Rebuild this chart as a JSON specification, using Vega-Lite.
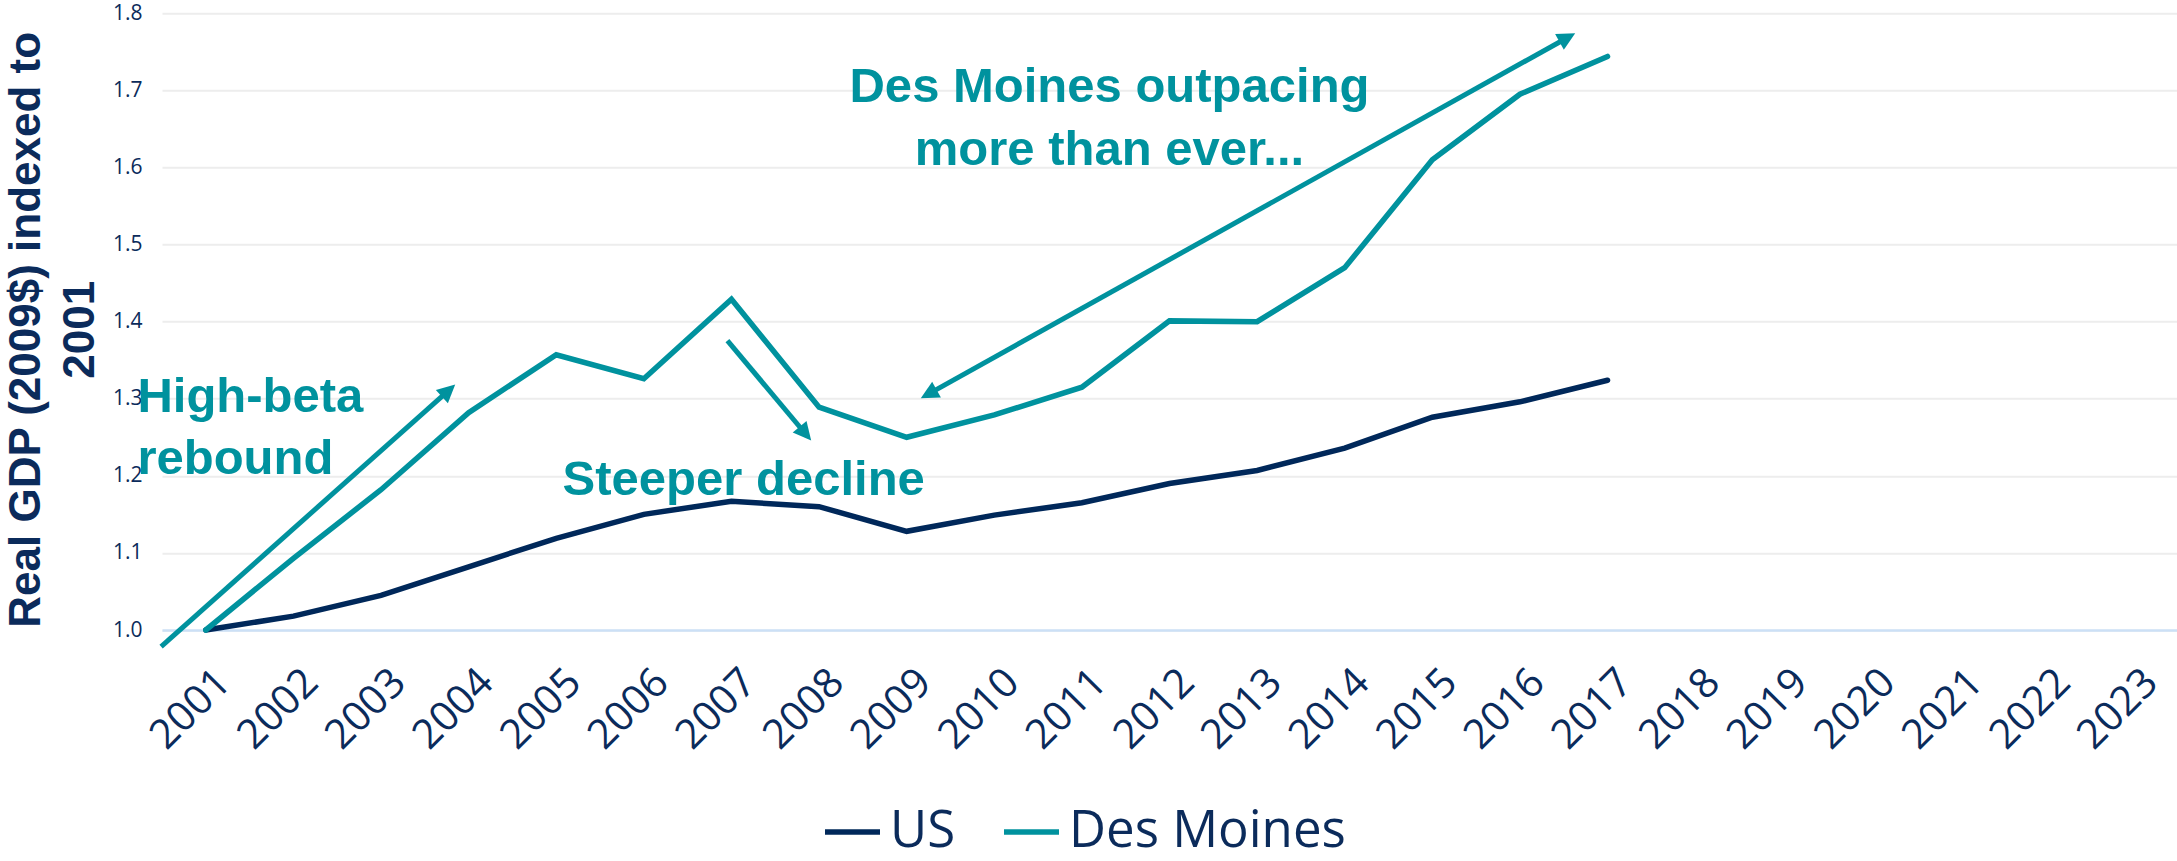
{
  "$schema": "https://vega.github.io/schema/vega-lite/v6.json",
  "width": 2015,
  "height": 616.7,
  "autosize": {"type": "none"},
  "padding": {"left": 162, "top": 13.3, "right": 0, "bottom": 231},
  "background": "white",
  "config": {"view": {"stroke": null}},
  "datasets": {
    "gdp": [
      {"year": 2001, "series": "US", "index": 1.000},
      {"year": 2002, "series": "US", "index": 1.018},
      {"year": 2003, "series": "US", "index": 1.045},
      {"year": 2004, "series": "US", "index": 1.082},
      {"year": 2005, "series": "US", "index": 1.119},
      {"year": 2006, "series": "US", "index": 1.150},
      {"year": 2007, "series": "US", "index": 1.167},
      {"year": 2008, "series": "US", "index": 1.160},
      {"year": 2009, "series": "US", "index": 1.128},
      {"year": 2010, "series": "US", "index": 1.149},
      {"year": 2011, "series": "US", "index": 1.165},
      {"year": 2012, "series": "US", "index": 1.190},
      {"year": 2013, "series": "US", "index": 1.207},
      {"year": 2014, "series": "US", "index": 1.236},
      {"year": 2015, "series": "US", "index": 1.276},
      {"year": 2016, "series": "US", "index": 1.296},
      {"year": 2017, "series": "US", "index": 1.324},
      {"year": 2001, "series": "Des Moines", "index": 1.000},
      {"year": 2002, "series": "Des Moines", "index": 1.093},
      {"year": 2003, "series": "Des Moines", "index": 1.182},
      {"year": 2004, "series": "Des Moines", "index": 1.282},
      {"year": 2005, "series": "Des Moines", "index": 1.357},
      {"year": 2006, "series": "Des Moines", "index": 1.326},
      {"year": 2007, "series": "Des Moines", "index": 1.429},
      {"year": 2008, "series": "Des Moines", "index": 1.289},
      {"year": 2009, "series": "Des Moines", "index": 1.250},
      {"year": 2010, "series": "Des Moines", "index": 1.279},
      {"year": 2011, "series": "Des Moines", "index": 1.315},
      {"year": 2012, "series": "Des Moines", "index": 1.401},
      {"year": 2013, "series": "Des Moines", "index": 1.400},
      {"year": 2014, "series": "Des Moines", "index": 1.470},
      {"year": 2015, "series": "Des Moines", "index": 1.610},
      {"year": 2016, "series": "Des Moines", "index": 1.695},
      {"year": 2017, "series": "Des Moines", "index": 1.744}
    ],
    "shafts": [
      {"year": 2000.490, "index": 0.9785, "year2": 2003.779, "index2": 1.3115},
      {"year": 2006.954, "index": 1.3754, "year2": 2007.852, "index2": 1.2536},
      {"year": 2009.241, "index": 1.3057, "year2": 2016.551, "index2": 1.7690}
    ],
    "tipRebound": [{"year": 2003.847, "index": 1.3184}],
    "tipDecline": [{"year": 2007.910, "index": 1.2457}],
    "tipUpper": [{"year": 2016.631, "index": 1.7741}],
    "tipLower": [{"year": 2009.161, "index": 1.3006}],
    "notesLeft": [
      {"year": 2000.219, "index": 1.2829, "label": "High-beta"},
      {"year": 2000.219, "index": 1.2025, "label": "rebound"}
    ],
    "notesCenter": [
      {"year": 2011.315, "index": 1.6853, "label": "Des Moines outpacing"},
      {"year": 2011.315, "index": 1.6032, "label": "more than ever..."},
      {"year": 2007.140, "index": 1.1752, "label": "Steeper decline"}
    ]
  },
  "encoding": {
    "x": {
      "field": "year",
      "type": "quantitative",
      "scale": {"domain": [2000.5, 2023.5], "nice": false, "zero": false},
      "axis": {
        "title": null,
        "values": [2001, 2002, 2003, 2004, 2005, 2006, 2007, 2008, 2009, 2010, 2011, 2012, 2013, 2014, 2015, 2016, 2017, 2018, 2019, 2020, 2021, 2022, 2023],
        "format": "d",
        "labelAngle": -45,
        "labelAlign": "right",
        "labelBaseline": "middle",
        "labelFont": "Open Sans",
        "labelFontSize": 41,
        "labelColor": "#0B2B5B",
        "labelPadding": 46,
        "labelOffset": 18,
        "labelOverlap": false,
        "labelFlush": false,
        "labelBound": false,
        "ticks": false,
        "domain": true,
        "domainColor": "#CCE0F6",
        "domainWidth": 2.5,
        "grid": false
      }
    },
    "y": {
      "field": "index",
      "type": "quantitative",
      "scale": {"domain": [1.0, 1.8], "nice": false, "zero": false},
      "axis": {
        "title": ["Real GDP (2009$) indexed to", "2001"],
        "titleFont": "Liberation Sans",
        "titleFontWeight": "bold",
        "titleFontSize": 44,
        "titleColor": "#0B2B5B",
        "titleAngle": 270,
        "titleX": -123,
        "titleY": 316,
        "titleAlign": "center",
        "titleBaseline": "alphabetic",
        "titleLineHeight": 54,
        "values": [1.0, 1.1, 1.2, 1.3, 1.4, 1.5, 1.6, 1.7, 1.8],
        "format": ".1f",
        "labelFont": "Open Sans",
        "labelFontSize": 21,
        "labelColor": "#0B2B5B",
        "labelPadding": 20,
        "ticks": false,
        "domain": false,
        "grid": true,
        "gridColor": "#EDEDED",
        "gridWidth": 2
      }
    }
  },
  "layer": [
    {
      "data": {"name": "gdp"},
      "mark": {"type": "line", "strokeWidth": 5.5, "strokeCap": "round"},
      "encoding": {
        "color": {
          "field": "series",
          "type": "nominal",
          "scale": {"domain": ["US", "Des Moines"], "range": ["#00285A", "#00929E"]},
          "legend": {
            "orient": "none",
            "legendX": 660,
            "legendY": 788,
            "direction": "horizontal",
            "title": null,
            "symbolType": "stroke",
            "symbolSize": 3025,
            "symbolStrokeWidth": 5.5,
            "labelFont": "Open Sans",
            "labelFontSize": 51,
            "labelColor": "#0B2B5B",
            "labelLimit": 1000,
            "labelOffset": 7,
            "columnPadding": 37,
            "padding": 0,
            "symbolOffset": 0
          }
        }
      }
    },
    {
      "data": {"name": "shafts"},
      "mark": {"type": "rule", "color": "#00929E", "strokeWidth": 5, "strokeCap": "butt"},
      "encoding": {
        "x2": {"field": "year2"},
        "y2": {"field": "index2"}
      }
    },
    {
      "data": {"name": "tipRebound"},
      "mark": {"type": "point", "shape": "M0,0L-1,-0.5L-1,0.5Z", "size": 1296, "filled": true, "opacity": 1, "color": "#00929E", "strokeWidth": 0, "angle": 318}
    },
    {
      "data": {"name": "tipDecline"},
      "mark": {"type": "point", "shape": "M0,0L-1,-0.5L-1,0.5Z", "size": 1296, "filled": true, "opacity": 1, "color": "#00929E", "strokeWidth": 0, "angle": 50}
    },
    {
      "data": {"name": "tipUpper"},
      "mark": {"type": "point", "shape": "M0,0L-1,-0.5L-1,0.5Z", "size": 1296, "filled": true, "opacity": 1, "color": "#00929E", "strokeWidth": 0, "angle": 331}
    },
    {
      "data": {"name": "tipLower"},
      "mark": {"type": "point", "shape": "M0,0L-1,-0.5L-1,0.5Z", "size": 1296, "filled": true, "opacity": 1, "color": "#00929E", "strokeWidth": 0, "angle": 151}
    },
    {
      "data": {"name": "notesLeft"},
      "mark": {"type": "text", "align": "left", "baseline": "alphabetic", "font": "Liberation Sans", "fontWeight": "bold", "fontSize": 49, "color": "#00929E"},
      "encoding": {"text": {"field": "label"}}
    },
    {
      "data": {"name": "notesCenter"},
      "mark": {"type": "text", "align": "center", "baseline": "alphabetic", "font": "Liberation Sans", "fontWeight": "bold", "fontSize": 49, "color": "#00929E"},
      "encoding": {"text": {"field": "label"}}
    }
  ]
}
